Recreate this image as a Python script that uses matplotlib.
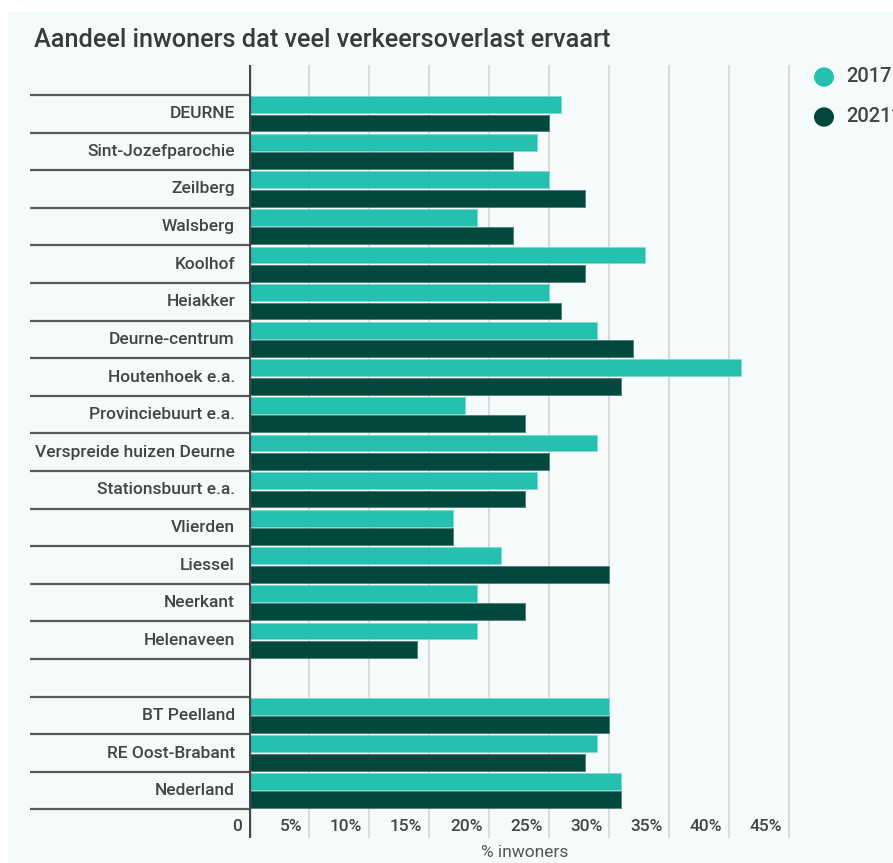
import matplotlib
matplotlib.use("Agg")
import matplotlib.pyplot as plt
import matplotlib.transforms as mtransforms
from matplotlib.patches import Rectangle, Circle
import numpy as np

plt.rcParams['font.family'] = ['Roboto', 'DejaVu Sans']

categories = ["DEURNE", "Sint-Jozefparochie", "Zeilberg", "Walsberg", "Koolhof",
              "Heiakker", "Deurne-centrum", "Houtenhoek e.a.", "Provinciebuurt e.a.",
              "Verspreide huizen Deurne", "Stationsbuurt e.a.", "Vlierden", "Liessel",
              "Neerkant", "Helenaveen", "", "BT Peelland", "RE Oost-Brabant", "Nederland"]
v2017 = [26, 24, 25, 19, 33, 25, 29, 41, 18, 29, 24, 17, 21, 19, 19, None, 30, 29, 31]
v2021 = [25, 22, 28, 22, 28, 26, 32, 31, 23, 25, 23, 17, 30, 23, 14, None, 30, 28, 31]
series_names = ["2017", "2021*"]
xticks = [0, 5, 10, 15, 20, 25, 30, 35, 40, 45]
xticklabels = ["0", "5%", "10%", "15%", "20%", "25%", "30%", "35%", "40%", "45%"]
title = "Aandeel inwoners dat veel verkeersoverlast ervaart"
xlabel = "% inwoners"

c17 = "#25c0af"
c21 = "#03483f"
bg = "#f5fbfb"
txt = "#444444"

W, H = 893, 863
fig = plt.figure(figsize=(W / 100, H / 100), dpi=100, facecolor="white")
fig.patches.append(Rectangle((8 / W, 0), 1, 1 - 12 / H, transform=fig.transFigure,
                             facecolor=bg, edgecolor="none", zorder=-10))

ax_left, ax_right, ax_top, ax_bot = 249, 800, 65, 838
ax = fig.add_axes([ax_left / W, 1 - ax_bot / H, (ax_right - ax_left) / W, (ax_bot - ax_top) / H])
ax.set_facecolor("none")

row_top, row_h = 95, 37.6
ylo = (ax_top - row_top) / row_h
yhi = (ax_bot - row_top) / row_h
ax.set_ylim(yhi, ylo)
ax.set_xlim(0, (ax_right - ax_left) / 12.0)

n = len(categories)
centers = np.arange(n) + 0.5
bh = 0.45
for i in range(n):
    if v2017[i] is not None:
        ax.barh(centers[i] - 0.245, v2017[i], height=bh, color=c17,
                edgecolor="#7fd9cf", linewidth=0.6, zorder=3)
    if v2021[i] is not None:
        ax.barh(centers[i] + 0.245, v2021[i], height=bh, color=c21,
                edgecolor="#4f7c75", linewidth=0.6, zorder=3)

# gridlines
for t in xticks[1:]:
    ax.axvline(t, color="#d8dcdc", linewidth=1.4, zorder=1)
# main axis line
ax.axvline(0, color="#474747", linewidth=2.4, zorder=5)

# separators (left of axis)
trans = mtransforms.blended_transform_factory(ax.transAxes, ax.transData)
x0 = (30 - ax_left) / (ax_right - ax_left)
for b in range(n + 1):
    ax.plot([x0, 0], [b, b], transform=trans, color="#595959", linewidth=1.6,
            clip_on=False, zorder=5, solid_capstyle="butt")

# category labels
for i, c in enumerate(categories):
    ax.text((235 - ax_left) / (ax_right - ax_left), centers[i], c, transform=trans,
            ha="right", va="center", fontsize=12.5, color=txt, fontweight="medium")

# tick labels drawn inside bottom area
ty = (826 - row_top) / row_h
for t, lab in zip(xticks, xticklabels):
    ax.text(t - 0.55, ty, lab, ha="right", va="center", fontsize=12.5,
            color=txt, fontweight="medium")

ax.set_xticks([])
ax.set_yticks([])
for s in ax.spines.values():
    s.set_visible(False)

# x label
fig.text((ax_left + ax_right) / 2 / W, 1 - 852 / H, xlabel, ha="center", va="center",
         fontsize=12.5, color="#555555")

# title
fig.text(34 / W, 1 - 40 / H, title, ha="left", va="center", fontsize=18.2,
         color="#3a3a3a", fontweight="medium")

# legend
for k, (name, col) in enumerate(zip(series_names, [c17, c21])):
    cy = 77 + 40 * k
    fig.patches.append(Circle((824 / W, 1 - cy / H), 10 / W, transform=fig.transFigure,
                              facecolor=col, edgecolor="none"))
    fig.text(846 / W, 1 - cy / H, name, ha="left", va="center", fontsize=14.5,
             color=txt, fontweight="medium")

fig.savefig("out.png", dpi=100, facecolor="white")
